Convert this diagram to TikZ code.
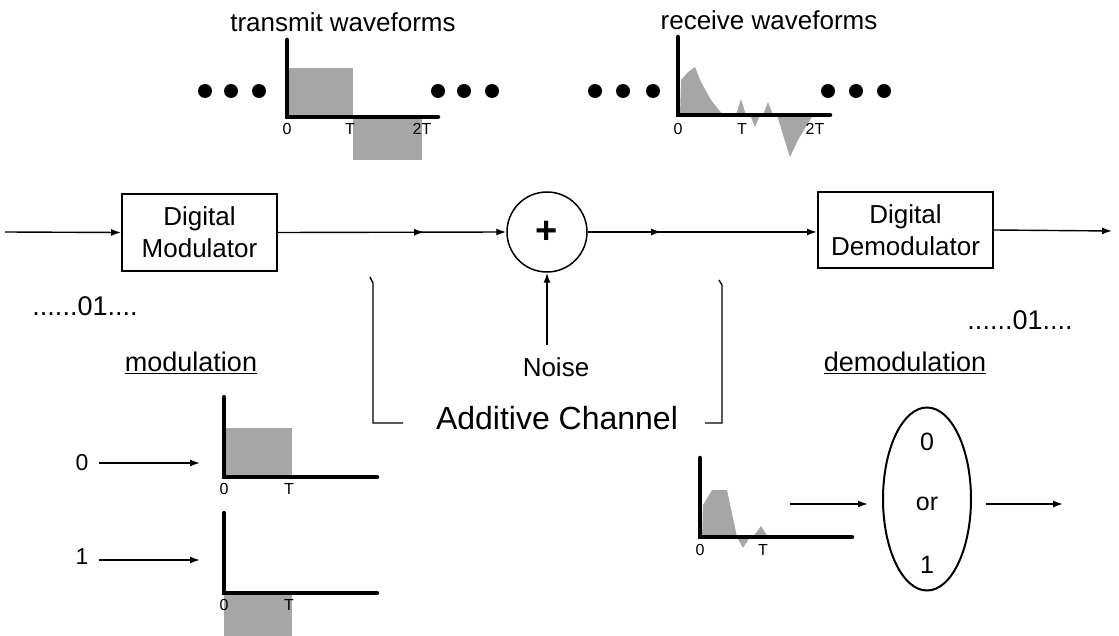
\documentclass[tikz,border=0pt]{standalone}
\usepackage{fontspec}
\setmainfont{Liberation Sans}
\usetikzlibrary{arrows.meta,shapes.geometric,decorations.markings,calc}
\begin{document}
\begin{tikzpicture}[x=1pt,y=-1pt,
  wire/.style={line width=1.4pt},
  arr/.style={wire,-{Latex[length=10pt,width=7pt]}},
  midtip/.style={postaction={decorate},decoration={markings,
      mark=at position #1 with {\arrow{Latex[length=10pt,width=7pt]}}}},
  blockbox/.style={draw,line width=2pt,align=center,inner sep=0pt,
      font=\fontsize{26}{32}\selectfont},
  axis/.style={line width=4.5pt,line cap=round},
  shade/.style={fill=black!35},
  ticklbl/.style={font=\fontsize{16}{16}\selectfont,inner sep=0pt},
  lbl/.style={font=\fontsize{26}{30}\selectfont,inner sep=0pt},
  dot/.style={circle,fill=black,minimum size=14pt,inner sep=0pt}]

\useasboundingbox (0,0) rectangle (1119,636);

% ---------- main chain ----------
\node[blockbox,minimum width=155pt,minimum height=77pt] (mod) at (199.5,232.5) {Digital\\Modulator};
\node[blockbox,minimum width=175pt,minimum height=76pt] (demod) at (905.5,230) {Digital\\Demodulator};
\node[circle,draw,line width=1.5pt,minimum size=80pt,inner sep=0pt,
      font=\fontsize{38}{38}\selectfont\bfseries] (sum) at (547,232) {+};

\coordinate (in) at (5,232);
\coordinate (out) at (1112,231);
\draw[arr] (in) -- (mod.west);
\draw[arr,midtip=0.64] (mod.east) -- (sum.west);
\draw[arr,midtip=0.32] (sum.east) -- (sum.east -| demod.west);
\draw[arr] (demod.east) -- (out);

\node[lbl,font=\fontsize{27}{30}\selectfont] (bitsin) at (85,306) {......01....};
\node[lbl,font=\fontsize{27}{30}\selectfont] (bitsout) at (1020,320) {......01....};

% ---------- noise and channel ----------
\node[lbl] (noise) at (556,367) {Noise};
\coordinate (noisetop) at (sum.south |- 0,345);
\draw[arr] (noisetop) -- (sum.south);

\node[lbl,font=\fontsize{32}{36}\selectfont] (chan) at (557,418) {Additive Channel};
\draw[wire] (370,277) -- (373,283) -- (373,423) -- (403,423);
\draw[wire] (705,423) -- (722,423) -- (722,285) -- (719,280);

% ---------- transmit waveforms ----------
\node[lbl] (txlbl) at (343,22) {transmit waveforms};
\foreach \x [count=\i] in {205,231,259}{\node[dot] (txl\i) at (\x,91) {};}
\foreach \x [count=\i] in {438,464,492}{\node[dot] (txr\i) at (\x,91) {};}
\fill[shade] (287,68) rectangle (353,117);
\fill[shade] (353,117) rectangle (422,160);
\draw[axis] (287,40) -- (287,117) -- (438,117);
\node[ticklbl] (tx0) at (287,129) {0};
\node[ticklbl] (txT) at (350,129) {T};
\node[ticklbl] (tx2T) at (422,129) {2T};

% ---------- receive waveforms ----------
\node[lbl] (rxlbl) at (769,20) {receive waveforms};
\foreach \x [count=\i] in {595,623,653}{\node[dot] (rxl\i) at (\x,91) {};}
\foreach \x [count=\i] in {828,856,884}{\node[dot] (rxr\i) at (\x,91) {};}
\fill[shade] (680,115) -- (681,80) -- (688,72) -- (695,67) -- (701,82) -- (711,100) -- (723,115) -- cycle;
\fill[shade] (736,115) -- (741,99) -- (746,115) -- cycle;
\fill[shade] (750,115) -- (755,127) -- (760,115) -- cycle;
\fill[shade] (763,115) -- (768,102) -- (773,115) -- cycle;
\fill[shade] (777,115) -- (784,138) -- (790,157) -- (798,140) -- (813,115) -- cycle;
\draw[axis] (678,37) -- (678,115) -- (830,115);
\node[ticklbl] (rx0) at (678,129) {0};
\node[ticklbl] (rxT) at (742,129) {T};
\node[ticklbl] (rx2T) at (815,129) {2T};

% ---------- modulation ----------
\node[lbl,font=\fontsize{27}{30}\selectfont] (modlbl) at (191,363) {\underline{modulation}};
\node[lbl,font=\fontsize{23}{26}\selectfont] (bit0) at (82,463) {0};
\node[lbl,font=\fontsize{23}{26}\selectfont] (bit1) at (82,557) {1};
\coordinate (p0) at (200,463);
\coordinate (p1) at (200,560);
\draw[arr] (bit0.east) ++(10,0) -- (p0);
\draw[arr] (bit1.east) ++(10,3) -- (p1);

\fill[shade] (224,428) rectangle (292,477);
\draw[axis] (224,397) -- (224,477) -- (377,477);
\node[ticklbl] (m00) at (224,489) {0};
\node[ticklbl] (m0T) at (289,489) {T};

\fill[shade] (224,593) rectangle (292,640);
\draw[axis] (224,513) -- (224,593) -- (377,593);
\node[ticklbl] (m10) at (224,605) {0};
\node[ticklbl] (m1T) at (289,605) {T};

% ---------- demodulation ----------
\node[lbl,font=\fontsize{27}{30}\selectfont] (demlbl) at (905,363) {\underline{demodulation}};
\fill[shade] (702,537) -- (703,505) -- (712,490) -- (727,490) -- (737,537) -- cycle;
\fill[shade] (737,537) -- (743,548) -- (750,537) -- cycle;
\fill[shade] (753,537) -- (761,526) -- (768,537) -- cycle;
\draw[axis] (700,458) -- (700,537) -- (852,537);
\node[ticklbl] (d0) at (700,550) {0};
\node[ticklbl] (dT) at (763,550) {T};

\node[ellipse,draw,line width=2pt,minimum width=88pt,minimum height=183pt,inner sep=0pt] (dec) at (927,499) {};
\node[lbl,font=\fontsize{25}{28}\selectfont] (dec0) at (927,442) {0};
\node[lbl,font=\fontsize{25}{28}\selectfont] (decor) at (927,504) {or};
\node[lbl,font=\fontsize{25}{28}\selectfont] (dec1) at (927,565) {1};
\coordinate (din) at (790,504);
\coordinate (dout) at (1063,504);
\draw[arr] (din) -- ($(dec.west)+(-14,5)$);
\draw[arr] ($(dec.east)+(14,5)$) -- (dout);

\end{tikzpicture}
\end{document}
